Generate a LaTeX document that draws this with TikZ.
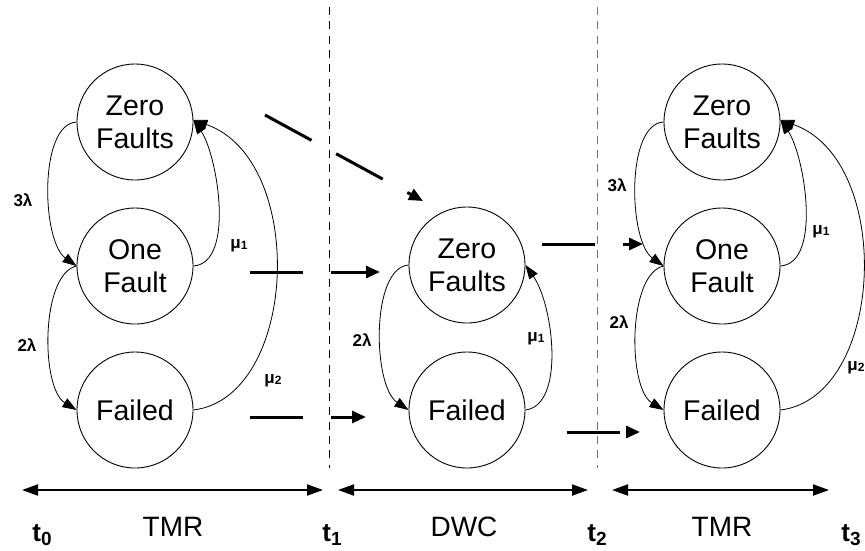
\documentclass[tikz,border=0pt]{standalone}
\usepackage{fontspec}
\setmainfont{Liberation Sans}
\usetikzlibrary{arrows.meta}
\newcommand{\tsub}[2]{#1\raisebox{-4pt}{\fontsize{19}{19}\selectfont #2}}
\newcommand{\musub}[1]{μ\raisebox{-1pt}{\fontsize{12}{12}\selectfont #1}}
\begin{document}
\begin{tikzpicture}[x=1pt,y=-1pt,
 state/.style={circle,draw,line width=0.9pt,minimum size=116pt,inner sep=0pt,align=center,font=\fontsize{28.5}{33}\selectfont},
 trans/.style={line width=0.8pt,-{Triangle[length=14pt,width=10pt]}},
 rate/.style={font=\fontsize{17}{17}\selectfont\bfseries,inner sep=0pt},
 phasearrow/.style={line width=3pt,dash pattern=on 53pt off 28pt,-{Triangle[length=14pt,width=12pt]}},
 spanarrow/.style={line width=2pt,{Triangle[length=16pt,width=11pt]}-{Triangle[length=16pt,width=11pt]}},
 epoch/.style={font=\fontsize{28}{28}\selectfont,anchor=base,inner sep=0pt},
 tick/.style={font=\fontsize{26}{26}\selectfont\bfseries,anchor=base,inner sep=0pt},
 divider/.style={line width=1pt,dash pattern=on 8pt off 6.3pt}]
\useasboundingbox (0,0) rectangle (865,550);

% states
\node[state] (zfA) at (135,122) {Zero\\Faults};
\node[state] (ofA) at (135,266) {One\\Fault};
\node[state] (faA) at (135,410) {Failed};
\node[state] (zfB) at (467,265) {Zero\\Faults};
\node[state] (faB) at (467,410) {Failed};
\node[state] (zfC) at (722,122) {Zero\\Faults};
\node[state] (ofC) at (722,266) {One\\Fault};
\node[state] (faC) at (722,410) {Failed};

% transitions, left TMR
\draw[trans] (zfA.west) .. controls +(-38,2) and +(-35,-25) .. (ofA.west);
\draw[trans] (ofA.west) .. controls +(-36,8) and +(-36,-22) .. (faA.west);
\draw[trans] (ofA.east) .. controls +(42,-3) and +(24,35) .. (zfA.2);
\draw[trans] (faA.east) .. controls +(105,-13) and +(114,40) .. (zfA.2);
% transitions, DWC
\draw[trans] (zfB.west) .. controls +(-38,3) and +(-36,-24) .. (faB.west);
\draw[trans] (faB.east) .. controls +(40,-5) and +(28,40) .. (zfB.east);
% transitions, right TMR
\draw[trans] (zfC.west) .. controls +(-38,2) and +(-35,-25) .. (ofC.west);
\draw[trans] (ofC.west) .. controls +(-36,8) and +(-36,-22) .. (faC.west);
\draw[trans] (ofC.east) .. controls +(42,-3) and +(24,35) .. (zfC.2);
\draw[trans] (faC.east) .. controls +(105,-13) and +(114,40) .. (zfC.2);

% rate labels
\node[rate] (rA1) at (23,200) {3λ};
\node[rate] (rA2) at (27,345) {2λ};
\node[rate] (rA3) at (239,246) {\musub{1}};
\node[rate] (rA4) at (273,381) {\musub{2}};
\node[rate] (rB1) at (362,340) {2λ};
\node[rate] (rB2) at (536,339) {\musub{1}};
\node[rate] (rC1) at (617,185) {3λ};
\node[rate] (rC2) at (619,322) {2λ};
\node[rate] (rC3) at (821,232) {\musub{1}};
\node[rate] (rC4) at (856,368) {\musub{2}};

% phase boundaries
\coordinate (d1t) at (329,7);
\coordinate (d1b) at (329,468);
\coordinate (d2t) at (597,7);
\coordinate (d2b) at (597,468);
\draw[divider] (d1t) -- (d1b);
\draw[divider,draw=black!55] (d2t) -- (d2b);

% state mapping arrows
\coordinate (m1s) at (265,115);
\coordinate (m1e) at (423,201);
\coordinate (m2s) at (250,272);
\coordinate (m2e) at (380,272);
\coordinate (m3s) at (250,417);
\coordinate (m3e) at (366,417);
\coordinate (m4s) at (542,244);
\coordinate (m4e) at (643,244);
\coordinate (m5s) at (567,432);
\coordinate (m5e) at (640,432);
\draw[phasearrow] (m1s) -- (m1e);
\draw[phasearrow] (m2s) -- (m2e);
\draw[phasearrow] (m3s) -- (m3e);
\draw[phasearrow] (m4s) -- (m4e);
\draw[phasearrow] (m5s) -- (m5e);

% time line
\coordinate (s1a) at (22,490);
\coordinate (s1b) at (323,490);
\coordinate (s2a) at (338,490);
\coordinate (s2b) at (588,490);
\coordinate (s3a) at (612,490);
\coordinate (s3b) at (829,490);
\draw[spanarrow] (s1a) -- (s1b);
\draw[spanarrow] (s2a) -- (s2b);
\draw[spanarrow] (s3a) -- (s3b);

\node[tick] (t0) at (42,541) {\tsub{t}{0}};
\node[epoch] (e1) at (173,536) {TMR};
\node[tick] (t1) at (332,541) {\tsub{t}{1}};
\node[epoch] (e2) at (464,536) {DWC};
\node[tick] (t2) at (597,541) {\tsub{t}{2}};
\node[epoch] (e3) at (722,536) {TMR};
\node[tick] (t3) at (851,541) {\tsub{t}{3}};
\end{tikzpicture}
\end{document}
